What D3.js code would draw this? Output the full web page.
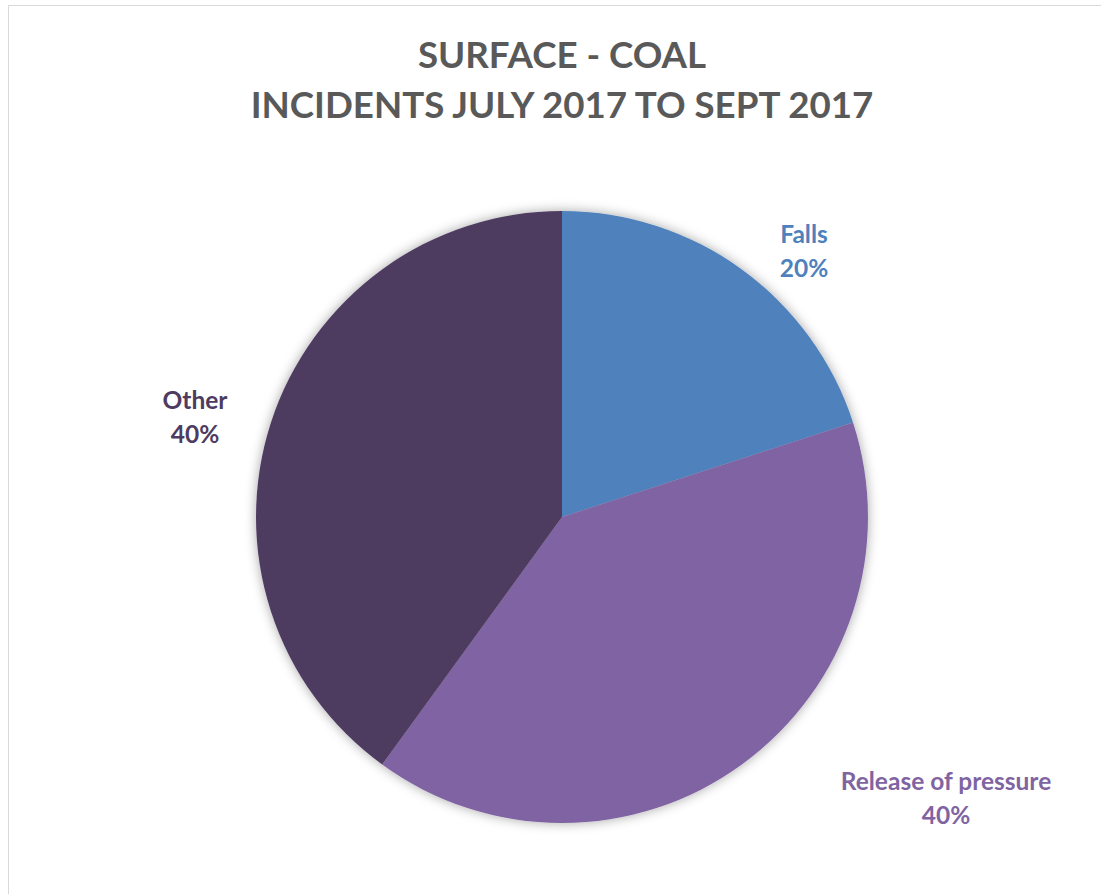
<!DOCTYPE html>
<html><head><meta charset="utf-8">
<script src="https://cdn.jsdelivr.net/npm/d3@7"></script>
<style>body{margin:0;background:#fff;} svg{display:block;}</style>
</head><body>
<script>
const categories = ["Falls", "Release of pressure", "Other"];
const values = [20, 40, 40];
const colors = ["#4F81BD", "#8064A2", "#4E3B61"];
const titleLines = ["SURFACE - COAL", "INCIDENTS JULY 2017 TO SEPT 2017"];
const labelPos = [[804, 243], [946, 790], [195, 409]];

const W = 1101, H = 894;
const svg = d3.select("body").append("svg").attr("width", W).attr("height", H);
svg.append("rect").attr("x", 8.5).attr("y", 5.5).attr("width", W + 10).attr("height", H + 10)
  .attr("fill", "#fff").attr("stroke", "#d9d9d9").attr("stroke-width", 1);

const defs = svg.append("defs");
const f = defs.append("filter").attr("id", "sh").attr("x", "-20%").attr("y", "-20%").attr("width", "140%").attr("height", "140%");
f.append("feDropShadow").attr("dx", 0).attr("dy", 0).attr("stdDeviation", 6).attr("flood-color", "#000").attr("flood-opacity", 0.35);

const font = "Lato, 'Open Sans', sans-serif";
svg.append("g").selectAll("text").data(titleLines).join("text")
  .attr("x", 562).attr("y", (d, i) => 68 + i * 50)
  .attr("text-anchor", "middle").attr("font-family", font).attr("font-weight", "bold")
  .attr("font-size", 36.7).attr("fill", "#595959").text(d => d);

const cx = 562, cy = 517, r = 306;
const pie = d3.pie().sort(null).value(d => d)(values);
const arc = d3.arc().innerRadius(0).outerRadius(r);
const g = svg.append("g").attr("transform", `translate(${cx},${cy})`);
g.append("g").attr("filter", "url(#sh)").selectAll("path").data(pie).join("path")
  .attr("d", arc).attr("fill", (d, i) => colors[i]);

const lg = svg.append("g").attr("font-family", font).attr("font-weight", "bold").attr("font-size", 24.5).attr("text-anchor", "middle");
pie.forEach((d, i) => {
  const t = lg.append("text").attr("fill", colors[i]);
  t.append("tspan").attr("x", labelPos[i][0]).attr("y", labelPos[i][1]).text(categories[i]);
  t.append("tspan").attr("x", labelPos[i][0]).attr("y", labelPos[i][1] + 34).text(Math.round(d.value / d3.sum(values) * 100) + "%");
});
</script>
</body></html>
